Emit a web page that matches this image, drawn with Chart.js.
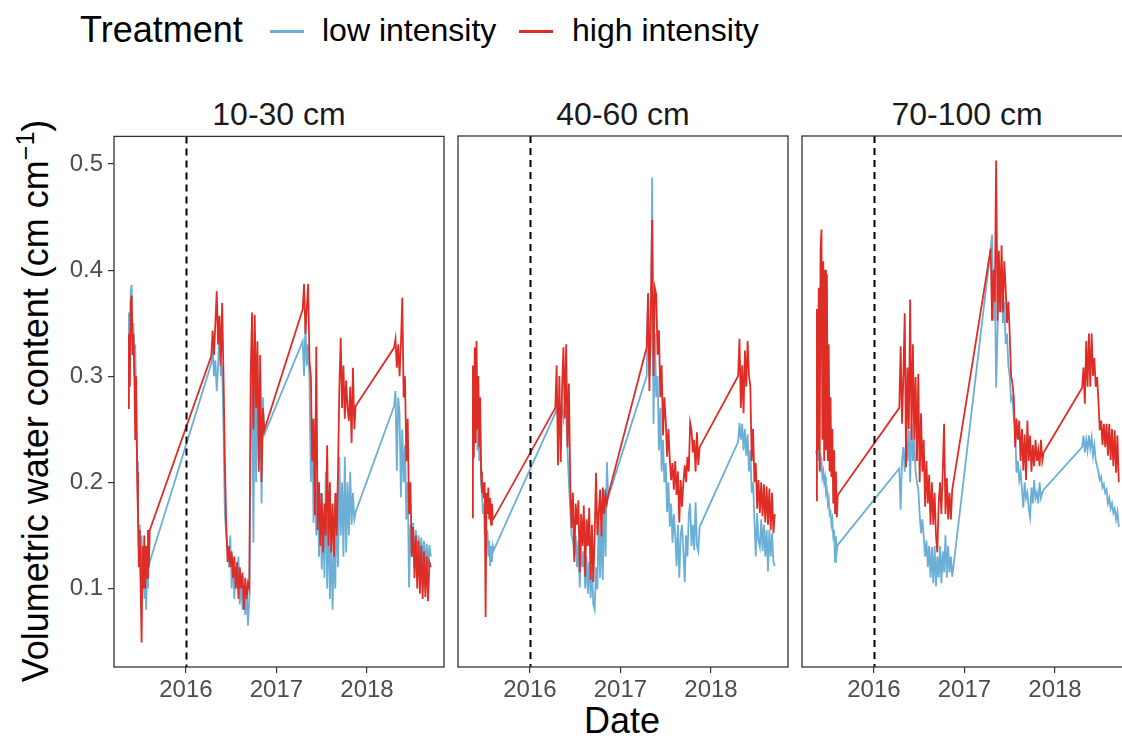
<!DOCTYPE html>
<html>
<head>
<meta charset="utf-8">
<script src="https://cdn.jsdelivr.net/npm/chart.js@4.4.1/dist/chart.umd.min.js"></script>
<style>
html,body{margin:0;padding:0;background:#fff;}
body{width:1122px;height:738px;overflow:hidden;position:relative;font-family:"Liberation Sans",Arial,Helvetica,sans-serif;}
canvas{position:absolute;}
.t{position:absolute;white-space:nowrap;line-height:1;}
.key{position:absolute;height:2.5px;}
</style>
</head>
<body>
<div class="t" style="left:80px;top:12px;font-size:36px;color:#000;">Treatment</div>
<div class="key" style="left:270px;top:30px;width:34px;background:#6BAED6;"></div>
<div class="t" style="left:322px;top:14px;font-size:32px;color:#000;">low intensity</div>
<div class="key" style="left:519px;top:30px;width:34px;background:#DE2D26;"></div>
<div class="t" style="left:572px;top:14px;font-size:32px;color:#000;">high intensity</div>

<div class="t" id="strip0" style="top:98px;font-size:32px;color:#1A1A1A;transform:translateX(-50%);"></div>
<div class="t" id="strip1" style="top:98px;font-size:32px;color:#1A1A1A;transform:translateX(-50%);"></div>
<div class="t" id="strip2" style="top:98px;font-size:32px;color:#1A1A1A;transform:translateX(-50%);"></div>

<div class="t" style="left:36px;top:401px;font-size:36px;color:#000;transform:translate(-50%,-50%) rotate(-90deg);">Volumetric water content (cm cm<sup style="font-size:25px;line-height:0;vertical-align:14px;">&minus;1</sup>)</div>
<div class="t" style="left:622px;top:703px;font-size:36px;color:#000;transform:translateX(-50%);">Date</div>

<canvas id="c0" width="400" height="588" style="left:50px;top:117px;"></canvas>
<canvas id="c1" width="342" height="585" style="left:452px;top:120px;"></canvas>
<canvas id="c2" width="342" height="585" style="left:796px;top:120px;"></canvas>

<script>
// ---------- DATA ----------
const panels = ['10-30 cm', '40-60 cm', '70-100 cm'];
const treatments = ['low intensity', 'high intensity'];
const xTicks = [2016, 2017, 2018];
const yTicks = [0.1, 0.2, 0.3, 0.4, 0.5];
const treatmentStart = 2016.0;

// measurement dates (decimal years)
const dates = [
  2015.36,2015.37,2015.38,2015.39,2015.40,2015.41,2015.42,2015.43,2015.44,2015.45,
  2015.46,2015.47,2015.48,2015.49,2015.50,2015.51,2015.52,2015.53,2015.54,2015.55,
  2015.56,2015.57,2015.58,2015.59,2015.60,
  2016.280,2016.295,2016.310,2016.325,2016.340,2016.355,2016.370,2016.385,2016.400,2016.415,
  2016.430,2016.445,2016.460,2016.475,2016.490,2016.505,2016.520,2016.535,2016.550,2016.565,
  2016.580,2016.595,2016.610,2016.625,2016.640,2016.655,2016.670,2016.685,2016.700,2016.715,
  2016.730,2016.745,2016.760,2016.775,2016.790,2016.805,2016.820,2016.835,2016.850,2016.865,
  2017.290,2017.305,2017.320,2017.335,2017.350,2017.365,2017.380,2017.395,2017.410,2017.425,
  2017.440,2017.455,2017.470,2017.485,2017.500,2017.515,2017.530,2017.545,2017.560,2017.575,
  2017.590,2017.605,2017.620,2017.635,2017.650,2017.665,2017.680,2017.695,2017.710,2017.725,
  2017.740,2017.755,2017.770,2017.785,2017.800,2017.815,2017.830,2017.845,2017.860,2017.875,
  2018.300,2018.315,2018.330,2018.345,2018.360,2018.375,2018.390,2018.405,2018.420,2018.435,
  2018.450,2018.465,2018.480,2018.495,2018.510,2018.525,2018.540,2018.555,2018.570,2018.585,
  2018.600,2018.615,2018.630,2018.645,2018.660,2018.675,2018.690,2018.705
];

const low1030 = [
  0.30,0.36,0.31,0.38,0.386,0.33,0.35,0.30,0.33,0.27,0.22,0.17,0.135,0.16,0.11,0.15,0.10,0.14,0.09,0.13,0.08,0.12,0.10,0.13,0.125,
  0.312,0.33,0.30,0.315,0.286,0.31,0.343,0.30,0.31,0.25,0.17,0.15,0.14,0.12,0.15,0.10,0.13,0.09,0.12,0.10,0.13,0.085,0.11,0.08,0.10,0.075,0.10,0.065,0.09,0.24,0.33,0.143,0.30,0.20,0.32,0.22,0.30,0.18,0.28,0.245,
  0.333,0.30,0.348,0.31,0.33,0.296,0.20,0.26,0.162,0.22,0.15,0.20,0.13,0.19,0.118,0.17,0.11,0.21,0.10,0.18,0.09,0.15,0.08,0.14,0.10,0.19,0.12,0.224,0.15,0.20,0.13,0.224,0.134,0.20,0.15,0.21,0.16,0.19,0.165,0.172,
  0.272,0.286,0.211,0.28,0.265,0.186,0.25,0.20,0.235,0.165,0.20,0.101,0.16,0.13,0.162,0.12,0.155,0.125,0.15,0.12,0.148,0.125,0.145,0.118,0.142,0.12,0.141,0.13
];
const high1030 = [
  0.27,0.34,0.29,0.37,0.376,0.32,0.34,0.30,0.24,0.30,0.21,0.17,0.12,0.155,0.10,0.049,0.14,0.10,0.15,0.10,0.14,0.11,0.155,0.12,0.155,
  0.319,0.343,0.32,0.35,0.38,0.33,0.357,0.31,0.369,0.30,0.22,0.16,0.125,0.14,0.12,0.135,0.11,0.13,0.10,0.125,0.09,0.12,0.10,0.115,0.08,0.11,0.09,0.105,0.10,0.30,0.36,0.25,0.358,0.27,0.333,0.21,0.32,0.20,0.27,0.249,
  0.363,0.387,0.34,0.364,0.387,0.314,0.30,0.22,0.26,0.169,0.328,0.155,0.20,0.14,0.19,0.134,0.18,0.15,0.235,0.14,0.20,0.134,0.18,0.13,0.19,0.15,0.21,0.29,0.336,0.27,0.31,0.26,0.296,0.27,0.258,0.29,0.237,0.308,0.25,0.272,
  0.327,0.335,0.308,0.33,0.30,0.33,0.374,0.28,0.30,0.22,0.26,0.17,0.20,0.13,0.158,0.11,0.15,0.10,0.145,0.095,0.14,0.09,0.135,0.092,0.13,0.088,0.125,0.12
];
const low4060 = [
  0.22,0.28,0.24,0.30,0.25,0.29,0.23,0.26,0.22,0.254,0.20,0.19,0.17,0.18,0.15,0.165,0.14,0.155,0.13,0.145,0.121,0.14,0.125,0.14,0.136,
  0.265,0.27,0.262,0.275,0.265,0.27,0.26,0.275,0.265,0.23,0.20,0.175,0.15,0.145,0.13,0.15,0.12,0.145,0.101,0.14,0.12,0.135,0.10,0.13,0.095,0.125,0.091,0.12,0.085,0.08,0.12,0.099,0.174,0.11,0.16,0.108,0.193,0.13,0.219,0.186,
  0.30,0.378,0.30,0.33,0.487,0.255,0.34,0.28,0.30,0.23,0.27,0.21,0.24,0.20,0.218,0.172,0.20,0.158,0.18,0.143,0.17,0.15,0.121,0.16,0.11,0.15,0.16,0.135,0.106,0.15,0.13,0.17,0.18,0.14,0.16,0.136,0.181,0.14,0.135,0.158,
  0.238,0.256,0.24,0.255,0.23,0.25,0.225,0.245,0.21,0.23,0.19,0.20,0.165,0.13,0.171,0.145,0.139,0.165,0.135,0.16,0.13,0.155,0.116,0.155,0.13,0.152,0.125,0.121
];
const high4060 = [
  0.167,0.31,0.223,0.327,0.237,0.333,0.25,0.30,0.233,0.28,0.21,0.19,0.20,0.185,0.20,0.073,0.19,0.17,0.195,0.165,0.185,0.16,0.18,0.165,0.166,
  0.27,0.31,0.216,0.30,0.219,0.29,0.327,0.26,0.33,0.233,0.293,0.20,0.157,0.19,0.125,0.18,0.16,0.183,0.115,0.17,0.14,0.178,0.111,0.165,0.14,0.176,0.108,0.16,0.106,0.15,0.209,0.15,0.171,0.193,0.149,0.195,0.17,0.188,0.18,0.188,
  0.327,0.378,0.286,0.36,0.447,0.30,0.383,0.377,0.32,0.343,0.28,0.31,0.244,0.28,0.258,0.224,0.25,0.221,0.202,0.218,0.193,0.22,0.188,0.21,0.162,0.202,0.177,0.20,0.216,0.20,0.224,0.21,0.256,0.249,0.228,0.24,0.21,0.247,0.216,0.233,
  0.30,0.335,0.27,0.31,0.265,0.324,0.29,0.333,0.30,0.29,0.22,0.25,0.20,0.218,0.175,0.202,0.171,0.20,0.168,0.198,0.162,0.196,0.16,0.194,0.155,0.19,0.152,0.17
];
const low70100 = [
  0.23,0.225,0.23,0.22,0.228,0.215,0.22,0.205,0.21,0.20,0.205,0.19,0.193,0.18,0.185,0.17,0.172,0.16,0.165,0.15,0.155,0.125,0.149,0.135,0.141,
  0.213,0.174,0.22,0.233,0.21,0.24,0.22,0.249,0.20,0.255,0.22,0.24,0.21,0.20,0.193,0.17,0.152,0.165,0.149,0.13,0.145,0.12,0.14,0.11,0.139,0.105,0.14,0.102,0.13,0.11,0.14,0.105,0.135,0.115,0.15,0.11,0.14,0.115,0.13,0.111,
  0.42,0.433,0.352,0.40,0.289,0.34,0.39,0.36,0.38,0.35,0.37,0.33,0.34,0.31,0.30,0.277,0.28,0.261,0.25,0.209,0.22,0.202,0.21,0.193,0.176,0.20,0.185,0.19,0.175,0.167,0.195,0.18,0.202,0.185,0.19,0.18,0.20,0.185,0.19,0.193,
  0.233,0.244,0.228,0.24,0.23,0.244,0.232,0.242,0.225,0.235,0.221,0.215,0.21,0.202,0.205,0.195,0.198,0.19,0.193,0.18,0.185,0.175,0.18,0.171,0.175,0.165,0.172,0.158
];
const high70100 = [
  0.183,0.363,0.23,0.383,0.21,0.42,0.438,0.24,0.408,0.22,0.40,0.23,0.396,0.22,0.33,0.21,0.28,0.205,0.25,0.18,0.23,0.171,0.21,0.167,0.188,
  0.27,0.328,0.255,0.30,0.359,0.214,0.308,0.25,0.372,0.24,0.33,0.24,0.299,0.22,0.302,0.20,0.265,0.21,0.24,0.177,0.22,0.18,0.207,0.16,0.20,0.16,0.19,0.15,0.134,0.18,0.20,0.17,0.21,0.255,0.17,0.204,0.165,0.19,0.165,0.193,
  0.42,0.352,0.40,0.37,0.503,0.352,0.418,0.36,0.423,0.36,0.408,0.383,0.35,0.37,0.34,0.30,0.293,0.28,0.233,0.26,0.24,0.258,0.22,0.25,0.211,0.245,0.202,0.258,0.22,0.244,0.21,0.235,0.215,0.24,0.22,0.23,0.215,0.24,0.22,0.228,
  0.289,0.308,0.274,0.333,0.29,0.34,0.29,0.34,0.30,0.317,0.29,0.299,0.277,0.249,0.258,0.235,0.255,0.233,0.255,0.225,0.255,0.221,0.25,0.215,0.249,0.209,0.244,0.20
];

const lowSeries = [low1030, low4060, low70100];
const highSeries = [high1030, high4060, high70100];

// ---------- STYLE ----------
const FONT = '"Liberation Sans", Arial, Helvetica, sans-serif';
const BLUE = '#6BAED6';
const RED = '#DE2D26';
const X_MIN = 2015.205, X_MAX = 2018.851;
const Y_MIN = 0.026, Y_MAX = 0.526;

const framePlugin = {
  id: 'frame',
  afterDatasetsDraw(chart) {
    const {ctx, chartArea: a, scales: {x}} = chart;
    ctx.save();
    const px = Math.round(x.getPixelForValue(treatmentStart)) + 0.5;
    ctx.strokeStyle = '#000';
    ctx.lineWidth = 2;
    ctx.setLineDash([7, 5]);
    ctx.beginPath();
    ctx.moveTo(px, a.top);
    ctx.lineTo(px, a.bottom);
    ctx.stroke();
    ctx.setLineDash([]);
    ctx.strokeStyle = '#333333';
    ctx.lineWidth = 1.3;
    ctx.strokeRect(a.left, a.top, a.right - a.left, a.bottom - a.top);
    ctx.restore();
  }
};

function toPoints(vals) { return dates.map((d, i) => ({x: d, y: vals[i]})); }

function makePanel(i, showY) {
  document.getElementById('strip' + i).textContent = panels[i];
  const canvas = document.getElementById('c' + i);
  const chart = new Chart(canvas, {
    type: 'line',
    data: {
      datasets: [
        {label: treatments[0], data: toPoints(lowSeries[i]), borderColor: BLUE, borderWidth: 1.8,
         pointRadius: 0, tension: 0, fill: false, order: 2},
        {label: treatments[1], data: toPoints(highSeries[i]), borderColor: RED, borderWidth: 1.8,
         pointRadius: 0, tension: 0, fill: false, order: 1}
      ]
    },
    options: {
      responsive: false,
      animation: false,
      events: [],
      layout: {padding: {left: showY ? 0 : 6, right: 6, top: 16, bottom: 0}},
      plugins: {legend: {display: false}, tooltip: {enabled: false}, title: {display: false}},
      scales: {
        x: {
          type: 'linear', min: X_MIN, max: X_MAX,
          afterBuildTicks: s => { s.ticks = xTicks.map(v => ({value: v})); },
          afterFit: s => { s.height = 38; },
          ticks: {autoSkip: false, maxRotation: 0, padding: 3, color: '#4D4D4D',
                  font: {family: FONT, size: 24}, callback: v => String(v)},
          grid: {display: true, drawOnChartArea: false, drawTicks: true, tickLength: 6,
                 tickColor: '#333333', lineWidth: 1.2},
          border: {display: false}
        },
        y: {
          type: 'linear', min: Y_MIN, max: Y_MAX, display: showY,
          afterBuildTicks: s => { s.ticks = yTicks.map(v => ({value: v})); },
          afterFit: s => { s.width = showY ? 64 : 0; },
          ticks: {autoSkip: false, padding: 5, color: '#4D4D4D',
                  font: {family: FONT, size: 24}, callback: v => Number(v).toFixed(1)},
          grid: {display: true, drawOnChartArea: false, drawTicks: true, tickLength: 6,
                 tickColor: '#333333', lineWidth: 1.2},
          border: {display: false}
        }
      }
    },
    plugins: [framePlugin]
  });
  const a = chart.chartArea;
  const strip = document.getElementById('strip' + i);
  strip.style.left = (canvas.offsetLeft + (a.left + a.right) / 2) + 'px';
}

makePanel(0, true);
makePanel(1, false);
makePanel(2, false);
</script>
</body>
</html>
